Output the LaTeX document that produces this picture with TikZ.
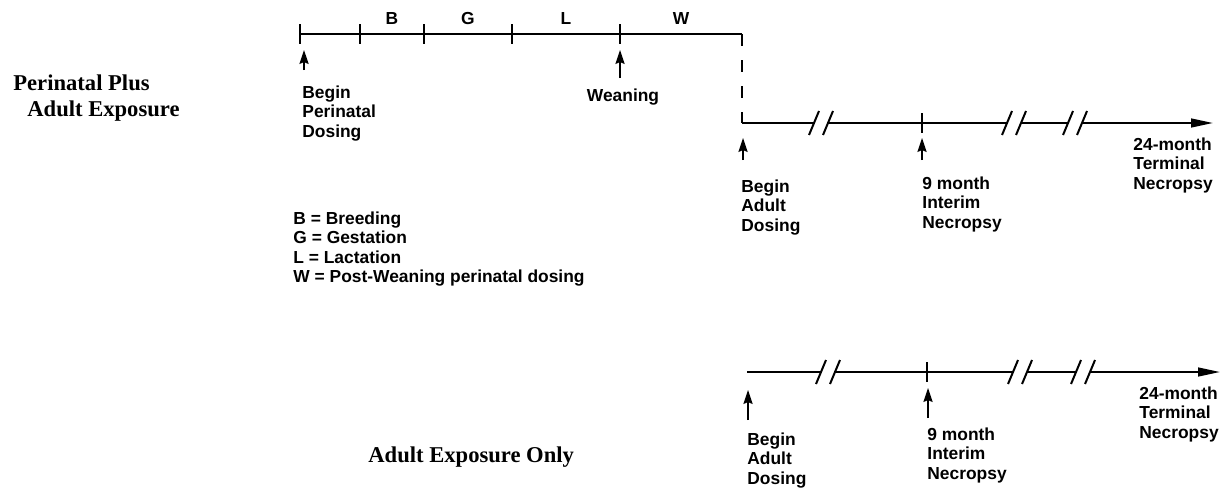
\documentclass[tikz,border=0pt]{standalone}
\usepackage{fontspec}
\setmainfont{Liberation Serif}
\setsansfont{Liberation Sans}
\usetikzlibrary{positioning, arrows.meta}
\tikzset{
x=0.5pt, y=-0.5pt, % one unit is one pixel of the page, y runs downwards
>={Stealth[length=7pt, width=4.6pt, inset=1pt]}, % small solid arrow heads
timeline/.style={line width=1pt}, % the study time lines
timeline end/.style={timeline, -{Triangle[length=11pt, width=4.4pt]}}, % long head at the end of a time line
pointer/.style={->, line width=0.7pt}, % arrows that point up at an event
notetext/.style={font=\sffamily\bfseries\fontsize{8.7}{9.8}\selectfont, align=left, inner sep=0pt, anchor=north west},
phaselabel/.style={font=\sffamily\bfseries\fontsize{8.7}{9.8}\selectfont, inner sep=0pt, above=4pt},
grouplabel/.style={font=\rmfamily\bfseries\fontsize{11.3}{13}\selectfont, align=left, inner sep=0pt},
tickmark/.pic={\draw[line width=1pt] (0,-10) -- (0,10);}, % short upright tick
cut mark/.pic={ % the // break in a time line
  \fill[white] (-10.5,8) -- (-3.5,-8) -- (10.5,-8) -- (3.5,8) -- cycle;
  \draw[line width=1pt] (-12,12) -- (-2,-12) (2,12) -- (12,-12);
},
}

\begin{document}
\begin{tikzpicture}
    \useasboundingbox (0,0) rectangle (1229,487);

    % perinatal plus adult exposure
    \node[grouplabel, anchor=north west] (perinatal) at (13,74) {Perinatal Plus\\\hspace*{7pt}Adult Exposure};

    \coordinate (p0) at (300,34);
    \coordinate (p1) at (360,34);
    \coordinate (p2) at (424,34);
    \coordinate (p3) at (512,34);
    \coordinate (p4) at (620,34);
    \coordinate (p5) at (742,34);
    \coordinate (a0) at (742,123);
    \coordinate (a9) at (922,123);
    \coordinate (a24) at (1213,123);

    \draw[timeline] (p0) -- (p1) -- node[phaselabel] {B} (p2) -- node[phaselabel] {G} (p3)
        -- node[phaselabel] {L} (p4) -- node[phaselabel] {W} (p5);
    \draw[timeline, dash pattern=on 6pt off 7pt] (p5) -- (a0);
    \draw[timeline end] (a0) -- (a24);
    \pic at (p0) {tickmark};
    \pic at (p1) {tickmark};
    \pic at (p2) {tickmark};
    \pic at (p3) {tickmark};
    \pic at (p4) {tickmark};
    \pic at (a9) {tickmark};
    \pic at (821,123) {cut mark};
    \pic at (1014,123) {cut mark};
    \pic at (1075,123) {cut mark};

    \coordinate (bpd tip) at (304,50);
    \coordinate (bpd tail) at (304,70);
    \coordinate (wean tip) at (620,50);
    \coordinate (wean tail) at (620,78);
    \coordinate (bad tip) at (743,138);
    \coordinate (bad tail) at (743,160);
    \coordinate (int tip) at (922,138);
    \coordinate (int tail) at (922,160);
    \draw[pointer] (bpd tail) -- (bpd tip);
    \draw[pointer] (wean tail) -- (wean tip);
    \draw[pointer] (bad tail) -- (bad tip);
    \draw[pointer] (int tail) -- (int tip);

    \node[notetext] (bpd) at (302,85) {Begin\\Perinatal\\Dosing};
    \node[notetext, anchor=base] (wean) at (623,101) {Weaning};
    \node[notetext] (bad) at (741,179) {Begin\\Adult\\Dosing};
    \node[notetext] (int) at (922,176) {9 month\\Interim\\Necropsy};
    \node[notetext] (term) at (1133,137) {24-month\\Terminal\\Necropsy};

    \node[notetext] (key) at (293,211) {B = Breeding\\G = Gestation\\L = Lactation\\W = Post-Weaning perinatal dosing};

    % adult exposure only
    \node[grouplabel, anchor=base west] (adult) at (368,462) {Adult Exposure Only};

    \coordinate (b0) at (747,372);
    \coordinate (b9) at (927,372);
    \coordinate (b24) at (1220,372);
    \draw[timeline end] (b0) -- (b24);
    \pic at (b9) {tickmark};
    \pic at (828,372) {cut mark};
    \pic at (1020,372) {cut mark};
    \pic at (1083,372) {cut mark};

    \coordinate (bad2 tip) at (748,390);
    \coordinate (bad2 tail) at (748,420);
    \coordinate (int2 tip) at (928,388);
    \coordinate (int2 tail) at (928,418);
    \draw[pointer] (bad2 tail) -- (bad2 tip);
    \draw[pointer] (int2 tail) -- (int2 tip);

    \node[notetext] (bad2) at (747,432) {Begin\\Adult\\Dosing};
    \node[notetext] (int2) at (927,427) {9 month\\Interim\\Necropsy};
    \node[notetext] (term2) at (1139,386) {24-month\\Terminal\\Necropsy};
\end{tikzpicture}
\end{document}
